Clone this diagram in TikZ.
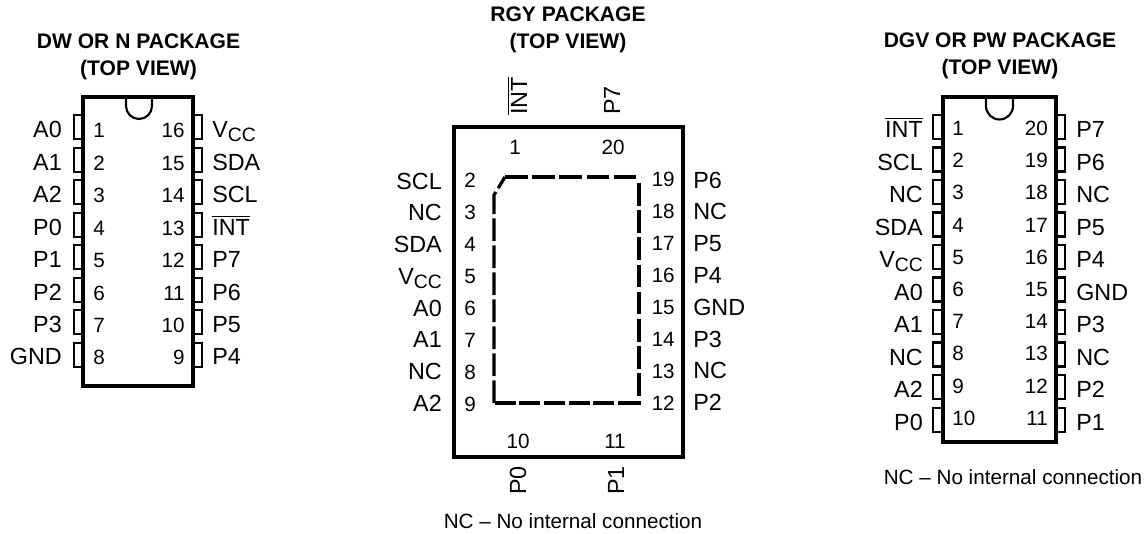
\documentclass[tikz,border=0pt]{standalone}
\usepackage{fontspec}
\setmainfont{Liberation Sans}
\newcommand{\vccname}{V\raisebox{-3.6pt}{\fontsize{14.5}{14.5}\selectfont CC}}
\newcommand{\intname}{\leavevmode\vbox{\hrule height 1.1pt\kern 1.3pt\hbox{INT}}}
\begin{document}
\begin{tikzpicture}[x=0.75pt,y=0.75pt,yscale=-1,xscale=1,
  chipbody/.style={line width=2.4pt,line cap=rect,line join=miter},
  pinbox/.style={line width=1.7pt},
  notch/.style={line width=1.6pt},
  diepad/.style={line width=2.4pt,dash pattern=on 17pt off 3.4pt},
  title/.style={font=\fontsize{15.8}{20.25}\selectfont\bfseries,align=center,inner sep=0pt},
  note/.style={font=\fontsize{15.5}{18}\selectfont,inner sep=0pt},
  signalr/.style={font=\fontsize{17.5}{20}\selectfont,anchor=base east,inner sep=0pt},
  signall/.style={font=\fontsize{17.5}{20}\selectfont,anchor=base west,inner sep=0pt},
  signalv/.style={font=\fontsize{17.5}{20}\selectfont,anchor=base west,rotate=90,inner sep=0pt},
  numr/.style={font=\fontsize{15.5}{18}\selectfont,anchor=base east,inner sep=0pt},
  numl/.style={font=\fontsize{15.5}{18}\selectfont,anchor=base west,inner sep=0pt},
  numc/.style={font=\fontsize{15.5}{18}\selectfont,anchor=base,inner sep=0pt}]
\useasboundingbox (0,0) rectangle (1144,533);

% DW or N package
\draw [chipbody] (83,97) -- (193,97) -- (193,386) -- (83,386) -- cycle ;
\draw [notch] (126,97) -- (126,106) arc (180:0:13) -- (152,97) ;
\draw [pinbox] (83,115) -- (74,115) -- (74,139) -- (83,139) ;
\draw [pinbox] (83,148) -- (74,148) -- (74,172) -- (83,172) ;
\draw [pinbox] (83,180) -- (74,180) -- (74,204) -- (83,204) ;
\draw [pinbox] (83,213) -- (74,213) -- (74,237) -- (83,237) ;
\draw [pinbox] (83,245) -- (74,245) -- (74,269) -- (83,269) ;
\draw [pinbox] (83,278) -- (74,278) -- (74,302) -- (83,302) ;
\draw [pinbox] (83,310) -- (74,310) -- (74,334) -- (83,334) ;
\draw [pinbox] (83,343) -- (74,343) -- (74,367) -- (83,367) ;
\draw [pinbox] (193,115) -- (202,115) -- (202,139) -- (193,139) ;
\draw [pinbox] (193,148) -- (202,148) -- (202,172) -- (193,172) ;
\draw [pinbox] (193,180) -- (202,180) -- (202,204) -- (193,204) ;
\draw [pinbox] (193,213) -- (202,213) -- (202,237) -- (193,237) ;
\draw [pinbox] (193,245) -- (202,245) -- (202,269) -- (193,269) ;
\draw [pinbox] (193,278) -- (202,278) -- (202,302) -- (193,302) ;
\draw [pinbox] (193,310) -- (202,310) -- (202,334) -- (193,334) ;
\draw [pinbox] (193,343) -- (202,343) -- (202,367) -- (193,367) ;

\node [title] (dwtitle) at (138.5,57) {DW OR N PACKAGE\\(TOP VIEW)};
\node [signalr] (dwa0) at (62,137) {A0};
\node [signalr] (dwa1) at (62,170) {A1};
\node [signalr] (dwa2) at (62,202) {A2};
\node [signalr] (dwp0) at (62,235) {P0};
\node [signalr] (dwp1) at (62,267) {P1};
\node [signalr] (dwp2) at (62,300) {P2};
\node [signalr] (dwp3) at (62,332) {P3};
\node [signalr] (dwgnd) at (62,364) {GND};
\node [signall] (dwvcc) at (212,137) {\vccname};
\node [signall] (dwsda) at (212,170) {SDA};
\node [signall] (dwscl) at (212,202) {SCL};
\node [signall] (dwint) at (212,235) {\intname};
\node [signall] (dwp7) at (212,267) {P7};
\node [signall] (dwp6) at (212,300) {P6};
\node [signall] (dwp5) at (212,332) {P5};
\node [signall] (dwp4) at (212,364) {P4};
\node [numl] (dwn1) at (93,137) {1};
\node [numl] (dwn2) at (93,170) {2};
\node [numl] (dwn3) at (93,202) {3};
\node [numl] (dwn4) at (93,235) {4};
\node [numl] (dwn5) at (93,267) {5};
\node [numl] (dwn6) at (93,300) {6};
\node [numl] (dwn7) at (93,332) {7};
\node [numl] (dwn8) at (93,364) {8};
\node [numr] (dwn16) at (185,137) {16};
\node [numr] (dwn15) at (185,170) {15};
\node [numr] (dwn14) at (185,202) {14};
\node [numr] (dwn13) at (185,235) {13};
\node [numr] (dwn12) at (185,267) {12};
\node [numr] (dwn11) at (185,300) {11};
\node [numr] (dwn10) at (185,332) {10};
\node [numr] (dwn9) at (185,364) {9};

% RGY package
\draw [chipbody] (454,127) -- (683,127) -- (683,457) -- (454,457) -- cycle ;
\draw [diepad] (505,177) -- (641,177) ;
\draw [diepad] (639,183) -- (639,405) ;
\draw [diepad,dash pattern=on 15.8pt off 2.7pt] (639,403) -- (494,403) ;
\draw [diepad,dash pattern=on 16.9pt off 3.35pt] (494,403) -- (494,195) -- (505,177) ;

\node [title] (rgytitle) at (568,30) {RGY PACKAGE\\(TOP VIEW)};
\node [signalv] (rgyint) at (527,115) {\intname};
\node [signalv] (rgyp7) at (620,115) {P7};
\node [signalv] (rgyp0) at (526,495) {P0};
\node [signalv] (rgyp1) at (624,495) {P1};
\node [numc] (rgyn1) at (515,154) {1};
\node [numc] (rgyn20) at (613,154) {20};
\node [numc] (rgyn10) at (518,448) {10};
\node [numc] (rgyn11) at (615,448) {11};
\node [signalr] (rgyscl) at (442,189) {SCL};
\node [signalr] (rgync3) at (442,220) {NC};
\node [signalr] (rgysda) at (442,252) {SDA};
\node [signalr] (rgyvcc) at (442,284) {\vccname};
\node [signalr] (rgya0) at (442,316) {A0};
\node [signalr] (rgya1) at (442,347) {A1};
\node [signalr] (rgync8) at (442,379) {NC};
\node [signalr] (rgya2) at (442,411) {A2};
\node [signall] (rgyp6) at (693,188) {P6};
\node [signall] (rgync18) at (693,219) {NC};
\node [signall] (rgyp5) at (693,251) {P5};
\node [signall] (rgyp4) at (693,283) {P4};
\node [signall] (rgygnd) at (693,315) {GND};
\node [signall] (rgyp3) at (693,347) {P3};
\node [signall] (rgync13) at (693,378) {NC};
\node [signall] (rgyp2) at (693,410) {P2};
\node [numl] (rgyn2) at (464,187) {2};
\node [numl] (rgyn3) at (464,219) {3};
\node [numl] (rgyn4) at (464,251) {4};
\node [numl] (rgyn5) at (464,283) {5};
\node [numl] (rgyn6) at (464,315) {6};
\node [numl] (rgyn7) at (464,347) {7};
\node [numl] (rgyn8) at (464,379) {8};
\node [numl] (rgyn9) at (464,411) {9};
\node [numr] (rgyn19) at (675,186) {19};
\node [numr] (rgyn18) at (675,218) {18};
\node [numr] (rgyn17) at (675,250) {17};
\node [numr] (rgyn16) at (675,282) {16};
\node [numr] (rgyn15) at (675,314) {15};
\node [numr] (rgyn14) at (675,346) {14};
\node [numr] (rgyn13) at (675,378) {13};
\node [numr] (rgyn12) at (675,410) {12};
\node [note] (rgynote) at (573,521) {NC -- No internal connection};

% DGV or PW package
\draw [chipbody] (943,97) -- (1056,97) -- (1056,442) -- (943,442) -- cycle ;
\draw [notch] (986,97) -- (986,106) arc (180:0:13.5) -- (1013,97) ;
\draw [pinbox] (943,115) -- (933,115) -- (933,139) -- (943,139) ;
\draw [pinbox] (943,147.5) -- (933,147.5) -- (933,171.5) -- (943,171.5) ;
\draw [pinbox] (943,180) -- (933,180) -- (933,204) -- (943,204) ;
\draw [pinbox] (943,212.5) -- (933,212.5) -- (933,236.5) -- (943,236.5) ;
\draw [pinbox] (943,245) -- (933,245) -- (933,269) -- (943,269) ;
\draw [pinbox] (943,277.5) -- (933,277.5) -- (933,301.5) -- (943,301.5) ;
\draw [pinbox] (943,310) -- (933,310) -- (933,334) -- (943,334) ;
\draw [pinbox] (943,342.5) -- (933,342.5) -- (933,366.5) -- (943,366.5) ;
\draw [pinbox] (943,375) -- (933,375) -- (933,399) -- (943,399) ;
\draw [pinbox] (943,408) -- (933,408) -- (933,432) -- (943,432) ;
\draw [pinbox] (1056,115) -- (1065,115) -- (1065,139) -- (1056,139) ;
\draw [pinbox] (1056,147.5) -- (1065,147.5) -- (1065,171.5) -- (1056,171.5) ;
\draw [pinbox] (1056,180) -- (1065,180) -- (1065,204) -- (1056,204) ;
\draw [pinbox] (1056,212.5) -- (1065,212.5) -- (1065,236.5) -- (1056,236.5) ;
\draw [pinbox] (1056,245) -- (1065,245) -- (1065,269) -- (1056,269) ;
\draw [pinbox] (1056,277.5) -- (1065,277.5) -- (1065,301.5) -- (1056,301.5) ;
\draw [pinbox] (1056,310) -- (1065,310) -- (1065,334) -- (1056,334) ;
\draw [pinbox] (1056,342.5) -- (1065,342.5) -- (1065,366.5) -- (1056,366.5) ;
\draw [pinbox] (1056,375) -- (1065,375) -- (1065,399) -- (1056,399) ;
\draw [pinbox] (1056,408) -- (1065,408) -- (1065,432) -- (1056,432) ;

\node [title] (dgvtitle) at (1000,55.5) {DGV OR PW PACKAGE\\(TOP VIEW)};
\node [signalr] (dgvint) at (923,137) {\intname};
\node [signalr] (dgvscl) at (923,170) {SCL};
\node [signalr] (dgvnc3) at (923,202) {NC};
\node [signalr] (dgvsda) at (923,235) {SDA};
\node [signalr] (dgvvcc) at (923,267) {\vccname};
\node [signalr] (dgva0) at (923,300) {A0};
\node [signalr] (dgva1) at (923,332) {A1};
\node [signalr] (dgvnc8) at (923,365) {NC};
\node [signalr] (dgva2) at (923,397) {A2};
\node [signalr] (dgvp0) at (923,430) {P0};
\node [signall] (dgvp7) at (1076,137) {P7};
\node [signall] (dgvp6) at (1076,170) {P6};
\node [signall] (dgvnc18) at (1076,202) {NC};
\node [signall] (dgvp5) at (1076,235) {P5};
\node [signall] (dgvp4) at (1076,267) {P4};
\node [signall] (dgvgnd) at (1076,300) {GND};
\node [signall] (dgvp3) at (1076,332) {P3};
\node [signall] (dgvnc13) at (1076,365) {NC};
\node [signall] (dgvp2) at (1076,397) {P2};
\node [signall] (dgvp1) at (1076,430) {P1};
\node [numl] (dgvn1) at (952,135) {1};
\node [numl] (dgvn2) at (952,167) {2};
\node [numl] (dgvn3) at (952,199) {3};
\node [numl] (dgvn4) at (952,232) {4};
\node [numl] (dgvn5) at (952,264) {5};
\node [numl] (dgvn6) at (952,296) {6};
\node [numl] (dgvn7) at (952,328) {7};
\node [numl] (dgvn8) at (952,360) {8};
\node [numl] (dgvn9) at (952,393) {9};
\node [numl] (dgvn10) at (952,425) {10};
\node [numr] (dgvn20) at (1048,135) {20};
\node [numr] (dgvn19) at (1048,167) {19};
\node [numr] (dgvn18) at (1048,199) {18};
\node [numr] (dgvn17) at (1048,232) {17};
\node [numr] (dgvn16) at (1048,264) {16};
\node [numr] (dgvn15) at (1048,296) {15};
\node [numr] (dgvn14) at (1048,328) {14};
\node [numr] (dgvn13) at (1048,360) {13};
\node [numr] (dgvn12) at (1048,393) {12};
\node [numr] (dgvn11) at (1048,425) {11};
\node [note] (dgvnote) at (1013,477) {NC -- No internal connection};

\end{tikzpicture}
\end{document}
